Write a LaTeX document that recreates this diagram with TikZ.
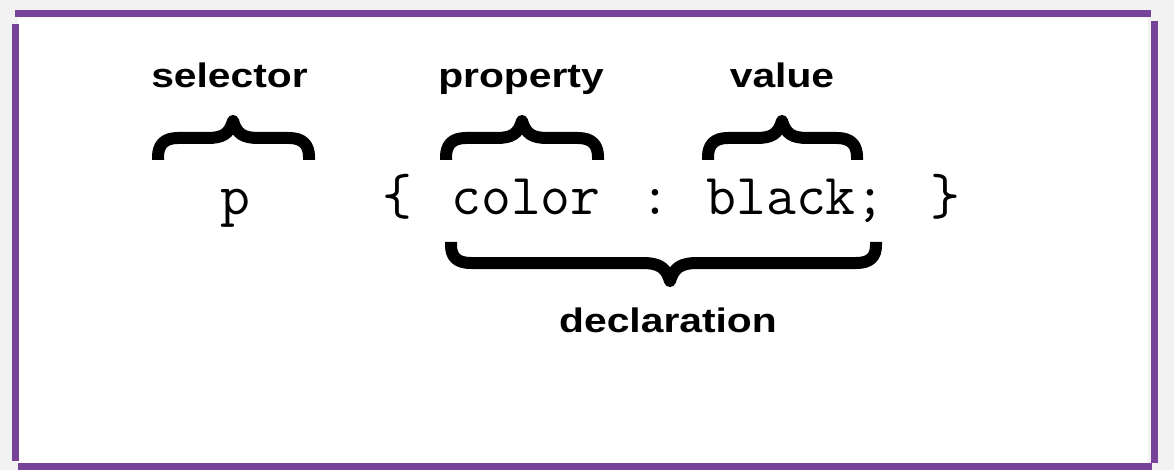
\documentclass[tikz,border=0pt]{standalone}
\usepackage{fontspec}
\setmainfont{Liberation Sans}
\definecolor{frame}{RGB}{119,67,153}
\definecolor{bgray}{RGB}{242,242,242}
\tikzset{
  label/.style={font=\fontsize{34}{40}\selectfont\bfseries, xscale=1.2, anchor=base, inner sep=0pt},
  code/.style={font=\fontsize{58}{64}\ttfamily, anchor=base, inner sep=0pt},
  bracepath/.style={line width=12pt, line join=round, line cap=butt},
  bar/.style={fill=frame, draw=none}
}
% upward brace: #1 left outer x, #2 right outer x, #3 centre x
\newcommand{\upbrace}[3]{%
  \pgfmathsetmacro{\Lc}{#1+6}\pgfmathsetmacro{\Rc}{#2-6}%
  \draw[bracepath] (\Lc,160) -- (\Lc,157) .. controls (\Lc,145) and (\Lc+6,138) .. (\Lc+20,138)
     -- (#3-26,138) .. controls (#3-10,138) and (#3-4,134) .. (#3,121)
     .. controls (#3+4,134) and (#3+10,138) .. (#3+26,138)
     -- (\Rc-20,138) .. controls (\Rc-6,138) and (\Rc,145) .. (\Rc,157) -- (\Rc,160);
}
\begin{document}
\begin{tikzpicture}[x=1pt, y=-1pt]
\useasboundingbox (0,0) rectangle (1174,470);
\fill[bgray] (0,0) rectangle (1174,470);
\fill[white] (18,18) rectangle (1148,463);
% frame bars
\fill[bar] (15,10) rectangle (1151,17);
\fill[bar] (12,24) rectangle (19,461);
\fill[bar] (18,463) rectangle (1152,470);
\fill[bar] (1151,21) rectangle (1158,463);
% labels
\node[label] (sel) at (229.5,88) {selector};
\node[label] (prop) at (521,88) {property};
\node[label] (val) at (782,88) {value};
\node[label] (decl) at (668,332) {declaration};
% code
\node[code] (p) at (235,215) {p};
\node[code] (lb) at (397,215) {\{};
\node[code] (col) at (526,215) {color};
\node[code] (colon) at (655,215) {:};
\node[code] (blk) at (796,215) {black;};
\node[code] (rb) at (945,215) {\}};
% braces
\upbrace{152}{315}{233}
\upbrace{440}{604}{522}
\upbrace{702}{863}{782}
% declaration brace (downward)
\draw[bracepath] (451,242) -- (451,245) .. controls (451,257) and (457,263) .. (471,263)
   -- (642,263) .. controls (660,263) and (666,268) .. (670,281)
   .. controls (674,268) and (680,263) .. (698,263)
   -- (856,263) .. controls (870,263) and (876,257) .. (876,245) -- (876,242);
\end{tikzpicture}
\end{document}
